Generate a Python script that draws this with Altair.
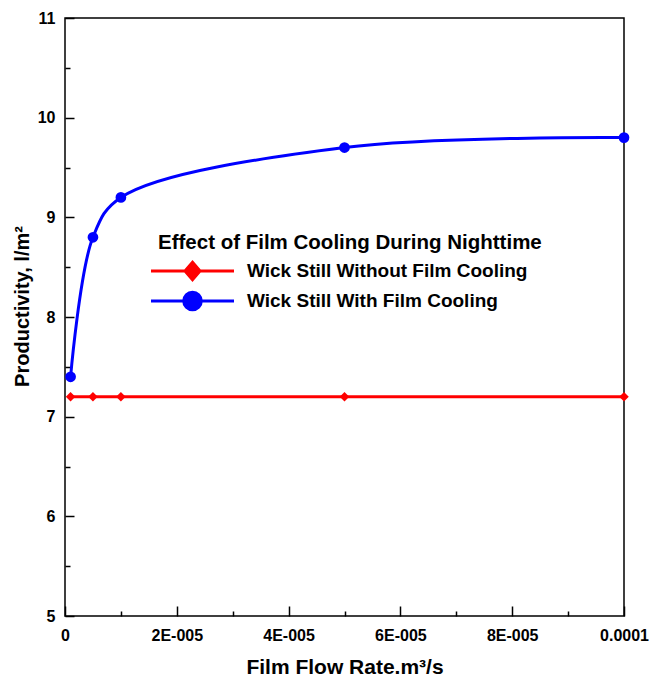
import altair as alt
import pandas as pd

# Film flow rate (m3/s) and productivity (l/m2) for the two wick still configurations
flow_rate = [0.000001, 0.000005, 0.00001, 0.00005, 0.0001]
without_cooling = [7.2, 7.2, 7.2, 7.2, 7.2]
with_cooling = [7.4, 8.8, 9.2, 9.7, 9.8]

series_without = "Wick Still Without Film Cooling"
series_with = "Wick Still With Film Cooling"
series_names = [series_without, series_with]
series_colors = ["#ff0000", "#0000ff"]
RED, BLUE = series_colors

# Axis tick positions and labels
x_label_values = [0, 0.00002, 0.00004, 0.00006, 0.00008, 0.0001]
x_tick_values = [0, 0.00001, 0.00002, 0.00003, 0.00004, 0.00005,
                 0.00006, 0.00007, 0.00008, 0.00009, 0.0001]
y_label_values = [5, 6, 7, 8, 9, 10, 11]
y_tick_values = [5, 5.5, 6, 6.5, 7, 7.5, 8, 8.5, 9, 9.5, 10, 10.5, 11]

PLOT_W, PLOT_H = 559, 598
FONT = "Liberation Sans"

df = pd.concat([
    pd.DataFrame({"rate": flow_rate, "value": without_cooling, "series": series_without}),
    pd.DataFrame({"rate": flow_rate, "value": with_cooling, "series": series_with}),
], ignore_index=True)

x_scale = alt.Scale(domain=[0, 0.0001], nice=False, zero=False)
y_scale = alt.Scale(domain=[5, 11], nice=False, zero=False)
legend_color_scale = alt.Scale(domain=series_names, range=series_colors)

x_label_expr = (
    "datum.value == 0 ? '0' : datum.value >= 0.0001 ? '0.0001' : "
    "replace(format(datum.value, '.0e'), 'e-', 'E-00')"
)

# Legend symbols: a line segment through the series marker (unit = sqrt(size)/2 px)
diamond_path = "M-8.3,0L8.3,0M0,-1.74L1.5,0L0,1.74L-1.5,0Z"
circle_path = (
    "M-8.3,0L8.3,0M-1.76,0C-1.76,-0.97,-0.97,-1.76,0,-1.76C0.97,-1.76,1.76,-0.97,1.76,0"
    "C1.76,0.97,0.97,1.76,0,1.76C-0.97,1.76,-1.76,0.97,-1.76,0Z"
)


def make_legend():
    return alt.Legend(
        title="Effect of Film Cooling During Nighttime",
        orient="none",
        legendX=93,
        legendY=215,
        padding=0,
        titleFont=FONT,
        titleFontSize=20.5,
        titleFontWeight="bold",
        titleColor="black",
        titleLimit=600,
        titlePadding=8,
        labelFont=FONT,
        labelFontSize=19,
        labelFontWeight="bold",
        labelColor="black",
        labelLimit=600,
        labelOffset=45,
        symbolOffset=25,
        symbolSize=100,
        symbolStrokeWidth=3,
        symbolOpacity=1,
        rowPadding=-1,
    )


base = alt.Chart(df)
red_base = base.transform_filter(alt.datum.series == series_without)
blue_base = base.transform_filter(alt.datum.series == series_with)

# Red line carries the labelled bottom and left axes
red_line = red_base.mark_line(strokeWidth=3, color=RED).encode(
    x=alt.X(
        "rate:Q",
        scale=x_scale,
        axis=alt.Axis(
            orient="bottom",
            values=x_label_values,
            labelExpr=x_label_expr,
            ticks=False,
            tickSize=0,
            domain=False,
            grid=False,
            labelFlush=False,
            labelPadding=11,
            title="Film Flow Rate.m³/s",
            titleFontSize=21,
            titleX=PLOT_W / 2,
            titleY=57,
            titleBaseline="alphabetic",
            titleAlign="center",
        ),
    ),
    y=alt.Y(
        "value:Q",
        scale=y_scale,
        axis=alt.Axis(
            orient="left",
            values=y_label_values,
            format="d",
            ticks=False,
            tickSize=0,
            domain=False,
            grid=False,
            labelFlush=False,
            labelPadding=10,
            title="Productivity, l/m²",
            titleX=-37,
            titleY=288,
            titleAngle=270,
            titleBaseline="alphabetic",
            titleAlign="center",
        ),
    ),
)

blue_line = blue_base.mark_line(strokeWidth=3, color=BLUE, interpolate="catmull-rom").encode(
    x=alt.X("rate:Q", scale=x_scale, axis=None),
    y=alt.Y("value:Q", scale=y_scale, axis=None),
)

# Red diamonds carry the inward tick marks on the bottom and left edges
red_points = red_base.mark_point(
    filled=True, opacity=1, shape="diamond", size=90, color=RED
).encode(
    x=alt.X(
        "rate:Q",
        scale=x_scale,
        axis=alt.Axis(
            orient="top",
            offset=-PLOT_H,
            values=x_tick_values,
            labels=False,
            domain=False,
            grid=False,
            title=None,
            tickSize={
                "condition": {"test": "round(datum.value * 100000) % 2 === 0", "value": 10},
                "value": 5,
            },
        ),
    ),
    y=alt.Y(
        "value:Q",
        scale=y_scale,
        axis=alt.Axis(
            orient="right",
            offset=-PLOT_W,
            values=y_tick_values,
            labels=False,
            domain=False,
            grid=False,
            title=None,
            tickSize={
                "condition": {"test": "datum.value % 1 === 0", "value": 9},
                "value": 5,
            },
        ),
    ),
)

blue_points = blue_base.mark_point(
    filled=True, opacity=1, shape="circle", size=115, color=BLUE
).encode(
    x=alt.X("rate:Q", scale=x_scale, axis=None),
    y=alt.Y("value:Q", scale=y_scale, axis=None),
)

# Legend layer: its own marks are fully transparent, only the legend is seen
legend_layer = base.mark_point(filled=True, opacity=0).encode(
    x=alt.X("rate:Q", scale=x_scale, axis=None),
    y=alt.Y("value:Q", scale=y_scale, axis=None),
    fill=alt.Fill("series:N", scale=legend_color_scale, legend=make_legend()),
    stroke=alt.Stroke("series:N", scale=legend_color_scale, legend=make_legend()),
    shape=alt.Shape(
        "series:N",
        scale=alt.Scale(domain=series_names, range=[diamond_path, circle_path]),
        legend=make_legend(),
    ),
)

chart = (
    alt.layer(red_line, blue_line, red_points, blue_points, legend_layer)
    .resolve_axis(x="independent", y="independent")
    .properties(
        width=PLOT_W,
        height=PLOT_H,
        autosize=alt.AutoSizeParams(type="none"),
        padding={"left": 65, "top": 18, "right": 25, "bottom": 62},
        background="white",
    )
    .configure_view(stroke="black", strokeWidth=1.5)
    .configure_axis(
        labelFont=FONT,
        labelFontSize=16,
        labelFontWeight="bold",
        labelColor="black",
        titleFont=FONT,
        titleFontSize=20,
        titleFontWeight="bold",
        titleColor="black",
        tickColor="black",
        tickWidth=1.5,
    )
)

chart.save("out.html", embed_options={"renderer": "svg", "actions": False})
